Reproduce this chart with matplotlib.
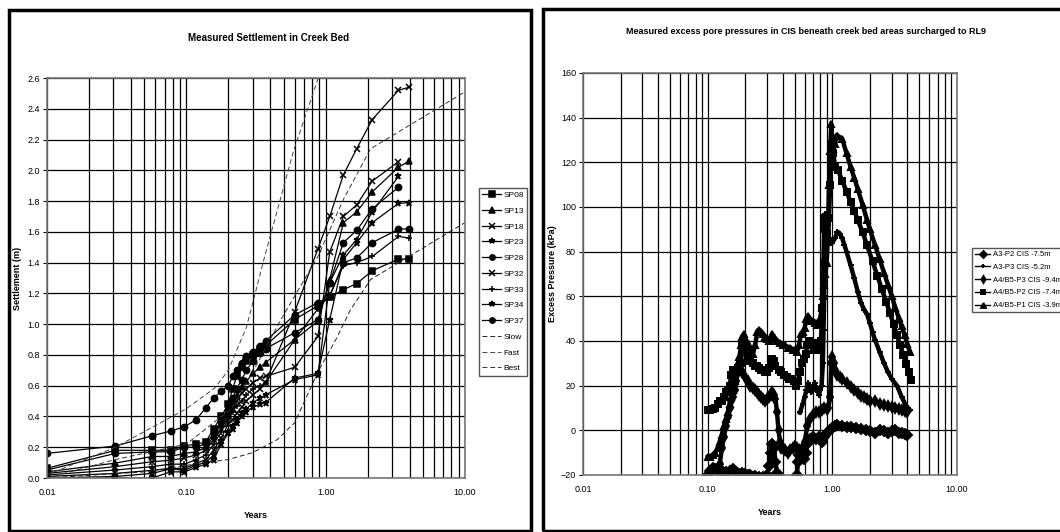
import numpy as np
import matplotlib
matplotlib.use("Agg")
import matplotlib.pyplot as plt
from matplotlib.patches import Rectangle
from matplotlib.ticker import FixedLocator, FixedFormatter, NullFormatter

plt.rcParams['font.family'] = ['Liberation Sans', 'DejaVu Sans']

# ---------------- settlement data (years, m) ----------------
t_sp = [0.01, 0.031, 0.057, 0.077, 0.097, 0.118, 0.138, 0.157, 0.178, 0.20, 0.215, 0.23, 0.25,
        0.27, 0.30, 0.34, 0.37, 0.6, 0.88, 1.07, 1.34, 1.67, 2.16, 3.33, 3.97]

sp08 = [0.063, 0.18, 0.18, 0.18, 0.21, 0.22, 0.235, 0.32, 0.40, 0.48, 0.58, 0.66, 0.72, 0.76, 0.80,
        0.84, 0.86, 1.03, 1.12, 1.176, 1.224, 1.264, 1.347, 1.423, 1.423]
sp13 = [0.04, 0.097, 0.14, 0.14, 0.16, 0.17, 0.20, 0.27, 0.35, 0.42, 0.48, 0.53, 0.59, 0.63, 0.68,
        0.72, 0.75, 0.90, 1.02, 1.29, 1.66, 1.73, 1.86, 2.02, 2.06]
sp18 = [0.01, 0.03, 0.05, 0.063, 0.063, 0.095, 0.12, 0.18, 0.26, 0.35, 0.38, 0.42, 0.46, 0.50, 0.54,
        0.58, 0.62, 1.08, 1.49, 1.70, 1.97, 2.14, 2.33, 2.52, 2.54]
sp23 = [0.0, 0.01, 0.03, 0.06, 0.05, 0.085, 0.10, 0.15, 0.24, 0.30, 0.34, 0.38, 0.42, 0.45, 0.49,
        0.52, 0.54, 0.64, 0.67, 1.27, 1.45, 1.55, 1.73, 1.96]
sp28 = [0.16, 0.208, 0.275, 0.305, 0.333, 0.38, 0.457, 0.518, 0.565, 0.598, 0.66, 0.70, 0.75, 0.79,
        0.82, 0.86, 0.89, 1.06, 1.14, 1.18, 1.40, 1.43, 1.53, 1.617, 1.62]
sp32 = [0.03, 0.074, 0.106, 0.115, 0.13, 0.15, 0.18, 0.25, 0.32, 0.40, 0.45, 0.50, 0.55, 0.58, 0.62,
        0.65, 0.66, 0.72, 0.92, 1.47, 1.70, 1.775, 1.93, 2.056]
sp33 = [0.02, 0.052, 0.074, 0.09, 0.09, 0.12, 0.15, 0.22, 0.30, 0.38, 0.43, 0.47, 0.50, 0.54, 0.58,
        0.60, 0.62, 0.90, 1.10, 1.19, 1.38, 1.40, 1.44, 1.57, 1.56]
sp34 = [0.0, 0.0, 0.0, 0.04, 0.04, 0.07, 0.09, 0.12, 0.22, 0.29, 0.32, 0.36, 0.40, 0.43, 0.46,
        0.48, 0.49, 0.65, 0.68, 1.03, 1.42, 1.53, 1.66, 1.785, 1.79]
sp37 = [0.052, 0.16, 0.17, 0.17, 0.20, 0.20, 0.225, 0.29, 0.37, 0.44, 0.52, 0.58, 0.64, 0.70, 0.76,
        0.81, 0.84, 0.945, 1.03, 1.27, 1.53, 1.61, 1.75, 1.89]

slow_t = [0.01, 0.05, 0.135, 0.2, 0.3, 0.45, 0.6, 0.88, 1.2, 1.5, 2.1, 10.0]
slow_v = [0.0, 0.04, 0.10, 0.12, 0.165, 0.25, 0.36, 0.69, 0.91, 1.09, 1.29, 1.66]
fast_t = [0.01, 0.031, 0.1, 0.16, 0.2, 0.27, 0.37, 0.59, 0.9]
fast_v = [0.02, 0.20, 0.45, 0.585, 0.70, 0.98, 1.46, 2.13, 2.62]
best_t = [0.01, 0.031, 0.1, 0.21, 0.3, 0.47, 0.88, 1.34, 2.1, 10.0]
best_v = [0.0, 0.12, 0.22, 0.45, 0.69, 1.02, 1.44, 1.81, 2.14, 2.51]

sp_series = [("SP08", sp08, "s"), ("SP13", sp13, "^"), ("SP18", sp18, "x"), ("SP23", sp23, "*"),
             ("SP28", sp28, "o"), ("SP32", sp32, "x"), ("SP33", sp33, "+"), ("SP34", sp34, "*"),
             ("SP37", sp37, "o")]

# ---------------- pore pressure data (years, kPa) ----------------
a3p2_t = [0.10, 0.105, 0.11, 0.115, 0.12, 0.13, 0.14, 0.15, 0.16, 0.17, 0.18, 0.19, 0.20, 0.21, 0.22,
          0.23, 0.24, 0.26, 0.28, 0.30, 0.31, 0.32, 0.33, 0.34, 0.35, 0.36, 0.38, 0.40, 0.45, 0.50,
          0.52, 0.53, 0.54, 0.55, 0.57, 0.59, 0.61, 0.63, 0.66, 0.70, 0.74, 0.78, 0.82, 0.86, 0.90,
          0.95, 1.00, 1.05, 1.10, 1.20, 1.30, 1.40, 1.55, 1.70, 1.85, 2.00, 2.20, 2.40, 2.60, 2.80,
          3.00, 3.20, 3.40, 3.60, 3.80, 4.00]
a3p2_v = [-20, -18, -17, -17.5, -18, -18, -18.5, -18, -17.5, -18.5, -19.5, -19, -19.5, -20, -20,
          -21, -20.5, -21, -21, -20, -16, -10, -6, -8, -14, -19, -22, -24, -26, -25,
          -20, -14, -11, -9, -11, -13, -10, -6, -4, -3, -4, -3, -5, -3, -1,
          0, 1, 2, 2.5, 2, 1.5, 1.5, 1, 0.5, 0, -0.5, -1, 0, -0.5, -1,
          -0.5, 0, -1, -1, -1.5, -2]

a3p3_t = [0.55, 0.58, 0.60, 0.62, 0.64, 0.66, 0.68, 0.70, 0.72, 0.74, 0.76, 0.78, 0.80, 0.82, 0.84,
          0.85, 0.86, 0.87, 0.88, 0.90, 0.93, 0.96, 1.00, 1.05, 1.10, 1.15, 1.20, 1.25, 1.30, 1.40,
          1.50, 1.60, 1.70, 1.80, 1.90, 2.00, 2.10, 2.20, 2.40, 2.60, 2.80, 3.00, 3.30, 3.60, 3.90,
          4.20]
a3p3_v = [8, 12, 15, 18, 21, 20, 17, 19, 21, 18, 19, 16, 18, 20, 30,
          45, 60, 75, 97, 92, 86, 84, 84, 86, 89, 88, 86, 83, 80, 74,
          68, 62, 57, 54, 52, 48, 44, 40.5, 35, 30, 26, 23, 20, 15, 11,
          9]

p3_t = [0.12, 0.125, 0.13, 0.135, 0.14, 0.145, 0.15, 0.155, 0.16, 0.165, 0.17, 0.175, 0.18, 0.185,
        0.19, 0.20, 0.21, 0.22, 0.23, 0.24, 0.25, 0.26, 0.27, 0.28, 0.29, 0.30, 0.31, 0.32, 0.33,
        0.34, 0.35, 0.36, 0.37, 0.38, 0.39, 0.40, 0.42, 0.44, 0.46, 0.48, 0.50, 0.52, 0.54, 0.56,
        0.58, 0.60, 0.63, 0.66, 0.70, 0.74, 0.78, 0.82, 0.86, 0.90, 0.93, 0.96, 0.98, 1.00, 1.03,
        1.06, 1.10, 1.15, 1.20, 1.30, 1.40, 1.50, 1.60, 1.70, 1.80, 1.90, 2.00, 2.20, 2.40, 2.60,
        2.80, 3.00, 3.20, 3.40, 3.60, 3.80, 4.00]
p3_v = [-22, -15, -8, -3, 2, 6, 10, 13, 15, 18, 22, 26, 28, 27,
        26, 24, 22, 20, 19, 18, 17, 16, 15, 14, 13, 14, 15, 16, 17,
        16, 14, 8, 0, -5, -8, -8, -9, -10, -9, -8, -7, -8, -9, -10,
        -8, -5, 2, 5, 7, 8, 8, 9, 10, 9.5, 10, 15, 30, 33, 30,
        27, 25, 24, 23, 21, 19.5, 18, 16.5, 15.5, 15, 14, 13, 13, 12, 11.5,
        11, 10.5, 10, 9.5, 9, 8.5, 8]

p2_t = [0.10, 0.105, 0.11, 0.115, 0.12, 0.125, 0.13, 0.135, 0.14, 0.145, 0.15, 0.155, 0.16, 0.165,
        0.17, 0.175, 0.18, 0.185, 0.19, 0.20, 0.21, 0.22, 0.23, 0.24, 0.25, 0.26, 0.27, 0.28, 0.29,
        0.30, 0.31, 0.32, 0.33, 0.34, 0.35, 0.37, 0.39, 0.41, 0.43, 0.45, 0.47, 0.49, 0.51, 0.53,
        0.55, 0.57, 0.59, 0.61, 0.63, 0.65, 0.67, 0.69, 0.71, 0.73, 0.75, 0.77, 0.79, 0.81, 0.83,
        0.85, 0.86, 0.87, 0.88, 0.90, 0.92, 0.94, 0.96, 0.98, 1.00, 1.02, 1.05, 1.11, 1.20, 1.30,
        1.40, 1.50, 1.60, 1.75, 1.90, 2.10, 2.30, 2.50, 2.70, 2.90, 3.10, 3.30, 3.50, 3.70, 3.90,
        4.10, 4.30]
p2_v = [9, 9, 9.5, 10, 12, 13, 13, 15, 17, 18, 20, 25, 27, 26,
        27, 28, 27, 30, 38, 36, 33, 31, 30, 29, 29, 28, 27, 27, 26,
        26, 28, 31, 32, 31, 29, 27, 26, 25, 24, 23, 23, 22, 20, 22,
        26, 30, 32, 34, 38, 40, 39, 38, 36, 38, 39, 37, 36, 40, 55,
        75, 95, 93, 90, 88, 85, 95, 110, 120, 128, 124, 118, 116.6, 111.8, 106.9,
        102.4, 98.1, 94.2, 88.7, 82.8, 75.7, 69.1, 63.1, 57.6, 52.5, 47.4, 42.5, 38.1, 33.9, 29.9,
        26, 22.5]

p1_t = [0.10, 0.105, 0.11, 0.115, 0.12, 0.125, 0.13, 0.135, 0.14, 0.145, 0.15, 0.155, 0.16, 0.165,
        0.17, 0.175, 0.18, 0.185, 0.19, 0.195, 0.20, 0.21, 0.22, 0.23, 0.24, 0.25, 0.26, 0.27, 0.28,
        0.29, 0.30, 0.31, 0.32, 0.33, 0.34, 0.36, 0.38, 0.40, 0.42, 0.44, 0.46, 0.48, 0.50, 0.52,
        0.54, 0.56, 0.58, 0.60, 0.62, 0.64, 0.66, 0.68, 0.70, 0.72, 0.74, 0.76, 0.78, 0.80, 0.82,
        0.84, 0.86, 0.88, 0.90, 0.92, 0.94, 0.96, 0.98, 1.00, 1.02, 1.05, 1.08, 1.10, 1.20, 1.30,
        1.40, 1.50, 1.60, 1.75, 1.90, 2.00, 2.20, 2.40, 2.60, 2.80, 3.00, 3.20, 3.40, 3.60, 3.80,
        4.00, 4.20]
p1_v = [-12, -12, -11, -10, -8, -5, -2, 2, 5, 8, 12, 15, 18, 22,
        26, 30, 33, 38, 42, 43, 41, 39, 36, 34, 38, 44, 45, 44, 43,
        42, 41, 40, 41, 43, 42, 40, 39, 38, 38, 37, 37, 36, 36, 35,
        38, 43, 44, 46, 50, 51, 50, 49, 49, 48, 48, 47, 49, 50, 55,
        60, 65, 70, 75, 85, 110, 125, 137, 130, 126, 128, 132, 132, 130.5, 124,
        118, 113, 108, 101, 94, 90, 83, 76.5, 70.5, 65, 60, 55, 50.5, 46.5, 42.5,
        38.5, 35]

pp_series = [("A3-P2 CIS -7.5m", a3p2_t, a3p2_v, "D"),
             ("A3-P3 CIS -5.2m", a3p3_t, a3p3_v, "+"),
             ("A4/B5-P3 CIS -9.4m", p3_t, p3_v, "d"),
             ("A4/B5-P2 CIS -7.4m", p2_t, p2_v, "s"),
             ("A4/B5-P1 CIS -3.9m", p1_t, p1_v, "^")]

x_ticks = [0.01, 0.1, 1.0, 10.0]
x_tick_labels = ["0.01", "0.10", "1.00", "10.00"]

W, H = 1060, 532
fig = plt.figure(figsize=(W / 100, H / 100), dpi=100)


def px(x0, y0, x1, y1):
    return [x0 / W, 1 - y1 / H, (x1 - x0) / W, (y1 - y0) / H]


def style_axes(ax):
    ax.set_xscale("log")
    ax.set_xlim(0.01, 10)
    ax.xaxis.set_major_locator(FixedLocator(x_ticks))
    ax.xaxis.set_major_formatter(FixedFormatter(x_tick_labels))
    ax.xaxis.set_minor_formatter(NullFormatter())
    ax.grid(True, which="both", axis="x", color="black", lw=0.9)
    ax.grid(True, which="major", axis="y", color="black", lw=0.9)
    ax.tick_params(axis="x", which="both", length=0, labelsize=6.5, pad=7)
    ax.tick_params(axis="y", length=3, width=0.8, labelsize=6.5, pad=2)
    for s in ax.spines.values():
        s.set_color("#777777")
        s.set_linewidth(1.2)
    ax.set_axisbelow(True)


# frames round both panels
fig.patches.append(Rectangle((9 / W, 1 - 531 / H), (531 - 9) / W, (531 - 10) / H,
                             transform=fig.transFigure, fill=False, ec="black", lw=2.5))
fig.patches.append(Rectangle((543 / W, 1 - 531 / H), (1065 - 543) / W, (531 - 9) / H,
                             transform=fig.transFigure, fill=False, ec="black", lw=2.5))

# ---- left: settlement ----
ax1 = fig.add_axes(px(47, 78, 465, 478))
style_axes(ax1)
ax1.set_ylim(0, 2.6)
ax1.set_yticks(np.arange(0, 2.61, 0.2))
ax1.set_yticklabels([f"{v:.1f}" for v in np.arange(0, 2.61, 0.2)])

for name, vals, mk in sp_series:
    ax1.plot(t_sp[:len(vals)], vals, color="black", lw=0.9, marker=mk, ms=4.5, mew=1.1,
             label=name)
ax1.plot(slow_t, slow_v, color="#222222", lw=0.7, ls=(0, (5, 3)), label="Slow")
ax1.plot(fast_t, fast_v, color="#444444", lw=0.7, ls=(0, (5, 3)), label="Fast")
ax1.plot(best_t, best_v, color="#333333", lw=0.7, ls=(0, (5, 3)), label="Best")

ax1.set_ylabel("Settlement (m)", fontsize=6.5, fontweight="bold", labelpad=4)
ax1.set_xlabel("Years", fontsize=6.5, fontweight="bold", labelpad=10)
fig.text(268 / W, 1 - 38 / H, "Measured Settlement in Creek Bed", ha="center", va="center",
         fontsize=7, fontweight="bold")
ax1.legend(loc="upper left", bbox_to_anchor=(479 / W, 1 - 188 / H), bbox_transform=fig.transFigure,
           fontsize=6, frameon=True, fancybox=False, edgecolor="#555555", framealpha=1,
           handlelength=2.2, handletextpad=0.3, labelspacing=0.95, borderpad=0.4,
           borderaxespad=0, markerscale=0.85)

# ---- right: pore pressure ----
ax2 = fig.add_axes(px(583, 73, 957, 475))
style_axes(ax2)
ax2.set_ylim(-20, 160)
ax2.set_yticks(np.arange(-20, 161, 20))

for name, tt, vv, mk in pp_series:
    ax2.plot(tt, vv, color="black", lw=3.2, marker=mk, ms=5, mew=1.4, label=name)

ax2.set_ylabel("Excess Pressure (kPa)", fontsize=6.5, fontweight="bold", labelpad=3)
ax2.set_xlabel("Years", fontsize=6.5, fontweight="bold", labelpad=10)
fig.text(806 / W, 1 - 32 / H,
         "Measured excess pore pressures in CIS beneath creek bed areas surcharged to RL9",
         ha="center", va="center", fontsize=6.5, fontweight="bold")
leg2 = ax2.legend(loc="upper left", bbox_to_anchor=(972 / W, 1 - 248 / H),
                  bbox_transform=fig.transFigure, fontsize=5.5, frameon=True, fancybox=False,
                  edgecolor="#555555", framealpha=1, handlelength=2.0, handletextpad=0.3,
                  labelspacing=0.7, borderpad=0.4, borderaxespad=0, markerscale=0.7)
for ln in leg2.get_lines():
    ln.set_linewidth(1.0)

fig.savefig("out.png", dpi=100)
